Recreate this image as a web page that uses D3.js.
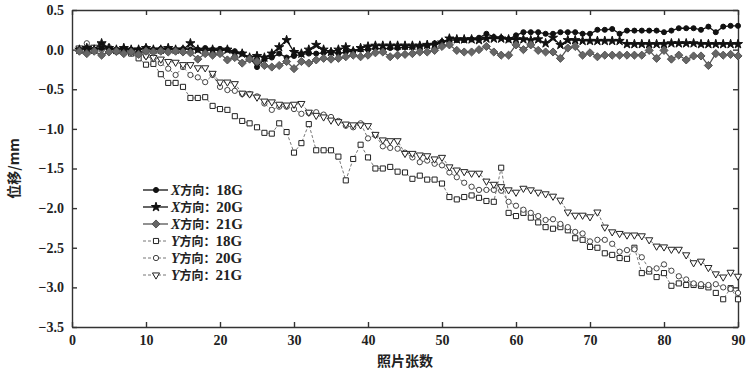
<!DOCTYPE html>
<html lang="zh">
<head>
  <meta charset="UTF-8">
  <script src="https://d3js.org/d3.v7.min.js"></script>
  <title>位移 vs 照片张数</title>
  <style>
    body { margin: 0; background: #fff; }
    .tick text { font-family: "Liberation Serif", serif; font-weight: bold; font-size: 14px; fill: #222; }
    .cjk { font-family: "Noto Sans CJK SC", sans-serif; font-weight: bold; }
  </style>
</head>
<body>
  <svg></svg>
  <script>
    const WIDTH = 750
    const HEIGHT = 376
    const margin = { top: 10, right: 12, bottom: 49, left: 72 }

    // photo number 1..90
    const photos = d3.range(1, 91)

    const x18 = [0.0,0.01,0.0,0.02,0.0,0.0,0.01,0.0,0.0,0.02, 0.0,0.01,0.0,0.0,0.01,0.0,0.0,0.02,0.0,0.01,
      0.0,-0.02,-0.05,-0.1,-0.22,-0.12,-0.1,-0.05,-0.1,-0.08, -0.06,-0.05,-0.05,-0.04,-0.03,-0.05,-0.03,-0.02,0.0,0.0,
      0.02,0.01,0.02,0.02,0.03,0.03,0.04,0.05,0.08,0.1, 0.12,0.12,0.12,0.13,0.15,0.2,0.16,0.15,0.13,0.18,
      0.22,0.22,0.22,0.2,0.2,0.22,0.22,0.22,0.2,0.2, 0.25,0.25,0.26,0.2,0.24,0.24,0.24,0.24,0.24,0.22,
      0.24,0.27,0.27,0.27,0.25,0.29,0.22,0.29,0.3,0.3]
    const x20 = [0.0,0.02,0.0,0.08,0.02,0.0,0.02,0.0,0.0,0.02, 0.0,0.0,0.02,0.0,0.0,0.08,0.0,-0.02,0.0,-0.02,
      0.0,-0.05,-0.05,-0.1,-0.08,-0.1,-0.05,0.03,0.12,-0.03, -0.05,0.0,0.06,0.0,-0.03,0.0,0.03,-0.02,0.02,0.04,
      0.05,0.05,0.05,0.05,0.05,0.05,0.05,0.06,0.06,0.09, 0.14,0.13,0.13,0.13,0.12,0.14,0.14,0.14,0.13,0.13,
      0.13,0.12,0.13,0.08,0.15,0.06,0.12,0.12,0.11,0.11, 0.11,0.11,0.11,0.11,0.07,0.07,0.07,0.07,0.07,0.07,
      0.08,0.08,0.08,0.08,0.07,0.07,0.07,0.07,0.07,0.07]
    const x21 = [-0.02,-0.05,-0.02,-0.07,-0.03,-0.02,-0.05,-0.03,-0.06,-0.02, -0.03,-0.02,-0.03,-0.02,-0.03,-0.04,-0.12,-0.05,-0.07,-0.05,
      -0.13,-0.1,-0.17,-0.12,-0.15,-0.2,-0.22,-0.2,-0.15,-0.24, -0.15,-0.17,-0.13,-0.11,-0.12,-0.11,-0.09,-0.07,-0.09,-0.07,
      -0.04,-0.03,-0.09,-0.07,-0.06,-0.05,-0.03,-0.03,-0.01,0.04, 0.06,-0.01,-0.03,-0.03,0.0,0.04,-0.03,-0.07,-0.07,0.06,
      0.0,0.06,-0.01,-0.03,-0.03,-0.11,0.02,0.04,-0.07,-0.04, -0.09,-0.07,-0.07,-0.07,-0.07,-0.07,-0.07,-0.01,-0.11,-0.01,
      -0.12,-0.07,-0.13,-0.08,-0.08,-0.2,-0.05,-0.07,-0.06,-0.08]
    const y18 = [0.0,0.02,0.0,0.02,0.0,-0.02,-0.03,-0.05,-0.11,-0.19, -0.18,-0.31,-0.42,-0.42,-0.47,-0.61,-0.61,-0.6,-0.71,-0.75,
      -0.76,-0.84,-0.9,-0.93,-0.98,-1.05,-1.06,-0.93,-1.04,-1.3, -1.18,-0.94,-1.27,-1.27,-1.27,-1.35,-1.65,-1.38,-1.2,-1.36,
      -1.5,-1.5,-1.48,-1.54,-1.55,-1.63,-1.59,-1.64,-1.64,-1.69, -1.86,-1.89,-1.86,-1.84,-1.87,-1.91,-1.92,-1.49,-2.06,-2.1,
      -2.06,-2.12,-2.18,-2.24,-2.26,-2.24,-2.28,-2.38,-2.4,-2.49, -2.5,-2.57,-2.59,-2.63,-2.64,-2.5,-2.82,-2.8,-2.87,-2.82,
      -2.98,-2.95,-2.97,-2.97,-2.98,-3.0,-3.07,-3.15,-3.01,-3.15]
    const y20 = [0.0,0.08,0.02,0.0,0.03,0.0,-0.02,-0.03,-0.05,-0.08, -0.12,-0.17,-0.24,-0.32,-0.22,-0.32,-0.35,-0.41,-0.32,-0.47,
      -0.51,-0.52,-0.56,-0.56,-0.59,-0.68,-0.76,-0.72,-0.72,-0.75, -0.81,-0.8,-0.79,-0.82,-0.85,-0.9,-0.96,-0.98,-0.93,-1.12,
      -1.08,-1.22,-1.24,-1.25,-1.3,-1.36,-1.42,-1.4,-1.44,-1.46, -1.55,-1.61,-1.68,-1.73,-1.77,-1.77,-1.77,-1.78,-1.92,-1.97,
      -2.02,-2.06,-2.1,-2.15,-2.14,-2.2,-2.24,-2.3,-2.32,-2.42, -2.4,-2.4,-2.45,-2.55,-2.53,-2.52,-2.62,-2.77,-2.76,-2.71,
      -2.79,-2.86,-2.9,-2.95,-2.96,-2.97,-2.96,-3.0,-3.02,-3.07]
    const y21 = [0.02,0.0,0.03,0.05,0.0,-0.02,0.0,-0.03,-0.05,-0.08, -0.1,-0.12,-0.15,-0.16,-0.19,-0.19,-0.23,-0.23,-0.3,-0.41,
      -0.41,-0.43,-0.55,-0.56,-0.6,-0.65,-0.66,-0.69,-0.7,-0.69, -0.68,-0.79,-0.83,-0.85,-0.89,-0.91,-0.94,-0.95,-0.95,-0.96,
      -1.07,-1.14,-1.15,-1.15,-1.31,-1.31,-1.33,-1.34,-1.38,-1.36, -1.48,-1.52,-1.54,-1.56,-1.56,-1.66,-1.7,-1.73,-1.77,-1.8,
      -1.75,-1.77,-1.8,-1.82,-1.85,-1.9,-2.05,-2.09,-2.09,-2.11, -2.05,-2.24,-2.3,-2.32,-2.34,-2.34,-2.35,-2.4,-2.48,-2.49,
      -2.52,-2.52,-2.59,-2.69,-2.67,-2.75,-2.83,-2.87,-2.81,-2.86]

    const xTicks = [0, 10, 20, 30, 40, 50, 60, 70, 80, 90]
    const yTicks = [0.5, 0, -0.5, -1, -1.5, -2, -2.5, -3, -3.5]
    const yTickLabels = ['0.5', '0.0', '−0.5', '−1.0', '−1.5', '−2.0', '−2.5', '−3.0', '−3.5']

    const series = [
      { dir: 'Y', name: '18G', values: y18, symbol: d3.symbolSquare, size: 26, fill: '#fff', stroke: '#222', line: '#777', dash: '3,2', rot: 0 },
      { dir: 'Y', name: '20G', values: y20, symbol: d3.symbolCircle, size: 22, fill: '#fff', stroke: '#444', line: '#777', dash: '3,2', rot: 0 },
      { dir: 'Y', name: '21G', values: y21, symbol: d3.symbolTriangle, size: 22, fill: '#fff', stroke: '#222', line: '#777', dash: '3,2', rot: 180 },
      { dir: 'X', name: '18G', values: x18, symbol: d3.symbolCircle, size: 20, fill: '#111', stroke: '#111', line: '#111', dash: null, rot: 0 },
      { dir: 'X', name: '20G', values: x20, symbol: d3.symbolStar, size: 26, fill: '#111', stroke: '#111', line: '#111', dash: null, rot: 0 },
      { dir: 'X', name: '21G', values: x21, symbol: d3.symbolDiamond2, size: 42, fill: '#666', stroke: '#555', line: '#555', dash: null, rot: 0 }
    ]
    const legendOrder = [3, 4, 5, 0, 1, 2]

    const svg = d3.select('svg')
      .attr('width', WIDTH)
      .attr('height', HEIGHT)

    const x = d3.scaleLinear().domain([0, 90]).range([margin.left, WIDTH - margin.right])
    const y = d3.scaleLinear().domain([-3.5, 0.5]).range([HEIGHT - margin.bottom, margin.top])

    // axes, ticks inward on all four sides
    svg.append('g')
      .attr('transform', `translate(0,${y(-3.5)})`)
      .call(d3.axisBottom(x).tickValues(xTicks).tickFormat(d3.format('d')).tickSizeInner(-5).tickSizeOuter(0).tickPadding(8))
    svg.append('g')
      .attr('transform', `translate(0,${y(0.5)})`)
      .call(d3.axisTop(x).tickValues(xTicks).tickFormat('').tickSizeInner(-5).tickSizeOuter(0))
    svg.append('g')
      .attr('transform', `translate(${x(0)},0)`)
      .call(d3.axisLeft(y).tickValues(yTicks).tickFormat((d, i) => yTickLabels[i]).tickSizeInner(-5).tickSizeOuter(0).tickPadding(8))
    svg.append('g')
      .attr('transform', `translate(${x(90)},0)`)
      .call(d3.axisRight(y).tickValues(yTicks).tickFormat('').tickSizeInner(-5).tickSizeOuter(0))
    svg.selectAll('.domain, .tick line').attr('stroke', '#333').attr('stroke-width', 1.4)

    const line = d3.line().x((d, i) => x(photos[i])).y(d => y(d))

    const plot = svg.append('g')
    series.forEach(s => {
      plot.append('path')
        .datum(s.values)
        .attr('fill', 'none')
        .attr('stroke', s.line)
        .attr('stroke-width', s.dash ? 1 : 1.3)
        .attr('stroke-dasharray', s.dash)
        .attr('d', line)
      plot.append('g').selectAll('path')
        .data(s.values)
        .enter().append('path')
        .attr('d', d3.symbol().type(s.symbol).size(s.size))
        .attr('transform', (d, i) => `translate(${x(photos[i])},${y(d)}) rotate(${s.rot})`)
        .attr('fill', s.fill)
        .attr('stroke', s.stroke)
        .attr('stroke-width', 1)
    })

    // legend
    const legend = svg.append('g')
    legendOrder.forEach((k, j) => {
      const s = series[k]
      const ly = 190 + j * 17
      legend.append('line')
        .attr('x1', 143).attr('x2', 168).attr('y1', ly).attr('y2', ly)
        .attr('stroke', s.line).attr('stroke-width', s.dash ? 1 : 1.3)
        .attr('stroke-dasharray', s.dash)
      legend.append('path')
        .attr('d', d3.symbol().type(s.symbol).size(s.size))
        .attr('transform', `translate(156,${ly}) rotate(${s.rot})`)
        .attr('fill', s.fill).attr('stroke', s.stroke)
      const t = legend.append('text')
        .attr('x', 171).attr('y', ly + 5)
        .attr('font-size', 14)
        .attr('fill', '#222')
      t.append('tspan').text(s.dir)
        .attr('font-family', 'Liberation Serif, serif').attr('font-style', 'italic').attr('font-weight', 'bold')
      t.append('tspan').text('方向：').attr('class', 'cjk').attr('font-size', 12)
      t.append('tspan').text(s.name)
        .attr('font-family', 'Liberation Serif, serif').attr('font-weight', 'bold').attr('font-size', 15)
    })

    // axis titles
    svg.append('text')
      .attr('class', 'cjk')
      .attr('x', x(45)).attr('y', 366)
      .attr('text-anchor', 'middle')
      .attr('font-size', 14)
      .attr('fill', '#222')
      .text('照片张数')
    svg.append('text')
      .attr('class', 'cjk')
      .attr('transform', `translate(19,${y(-1.5)}) rotate(-90)`)
      .attr('text-anchor', 'middle')
      .attr('font-size', 14)
      .attr('fill', '#222')
      .text('位移/mm')
  </script>
</body>
</html>
